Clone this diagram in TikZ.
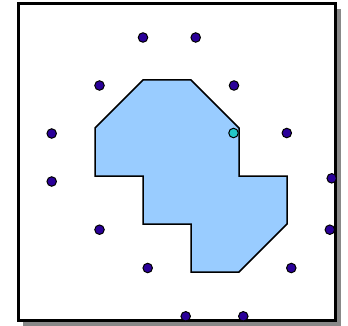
\documentclass[tikz,border=0pt]{standalone}
\definecolor{shapefill}{HTML}{99CCFF}
\definecolor{dotblue}{HTML}{2A0099}
\definecolor{dotcyan}{HTML}{22C8C8}
\definecolor{shadowgray}{HTML}{888888}
\tikzset{
  dot/.style={circle,draw=black,line width=1pt,fill=dotblue,inner sep=0pt,minimum size=9.5pt},
  cdot/.style={dot,fill=dotcyan},
}
\begin{document}
\begin{tikzpicture}[x=1pt,y=-1pt]
\useasboundingbox (0,0) rectangle (348,326);
% shadow and frame
\fill[shadowgray] (23,9) rectangle (341,326);
\draw[line width=3pt,fill=white] (18,4) rectangle (335,320);
% polygon
\draw[line width=1.5pt,fill=shapefill,line join=miter]
  (95,128) -- (143,80) -- (191,80) -- (239,128) -- (239,176) -- (287,176)
  -- (287,224) -- (239,272) -- (191,272) -- (191,224) -- (143,224)
  -- (143,176) -- (95,176) -- cycle;
% dots
\node[dot] (d1) at (143,37.5) {};
\node[dot] (d2) at (195.7,37.5) {};
\node[dot] (d3) at (99.5,85.5) {};
\node[dot] (d4) at (234,85.5) {};
\node[dot] (d5) at (51.7,133.5) {};
\node[cdot] (d6) at (233.5,133) {};
\node[dot] (d7) at (286.8,133) {};
\node[dot] (d8) at (51.7,181.5) {};
\node[dot] (d9) at (331.7,178.3) {};
\node[dot] (d10) at (99.5,229.7) {};
\node[dot] (d11) at (329.8,229.7) {};
\node[dot] (d12) at (147.7,268) {};
\node[dot] (d13) at (291.3,268) {};
\node[dot] (d14) at (185.7,316.3) {};
\node[dot] (d15) at (243.3,316.3) {};
\end{tikzpicture}
\end{document}
